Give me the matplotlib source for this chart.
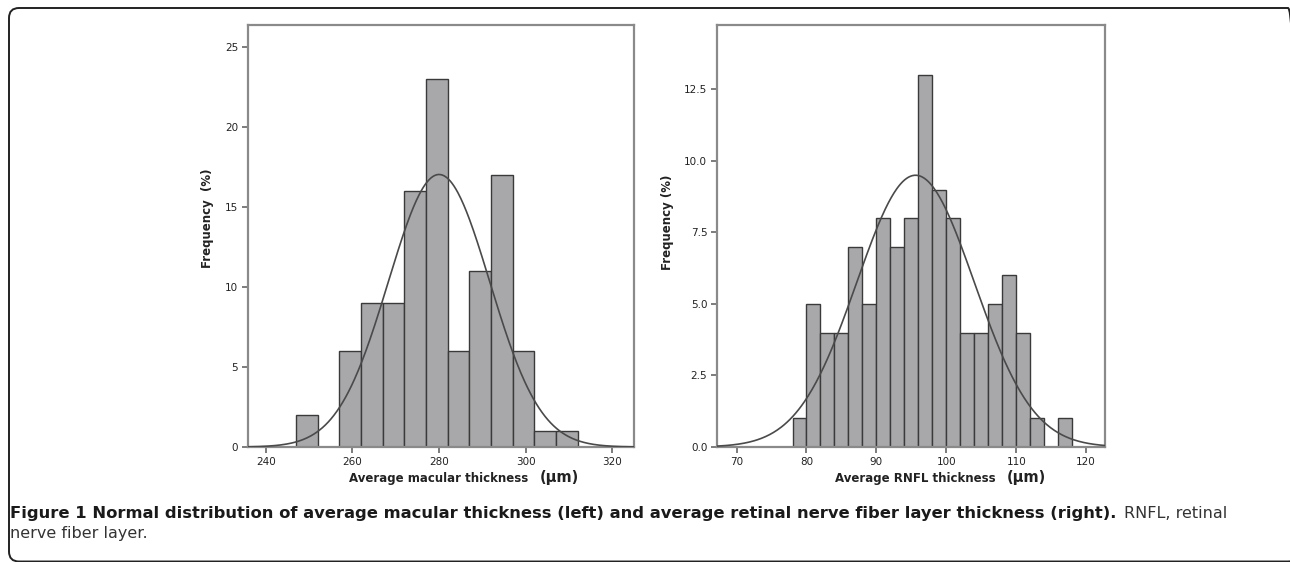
import numpy as np
import matplotlib
matplotlib.use("Agg")
import matplotlib.pyplot as plt
from matplotlib.patches import FancyBboxPatch

# Left histogram: average macular thickness (bins of 5 um)
mac_edges = [247, 252, 257, 262, 267, 272, 277, 282, 287, 292, 297, 302, 307, 312]
mac_freq = [2, 0, 6, 9, 9, 16, 23, 6, 11, 17, 6, 1, 1]
mac_mean, mac_sd = 280.0, 11.7

# Right histogram: average RNFL thickness (bins of 2 um)
rnfl_edges = [78, 80, 82, 84, 86, 88, 90, 92, 94, 96, 98, 100, 102, 104,
              106, 108, 110, 112, 114, 116, 118]
rnfl_freq = [1, 5, 4, 4, 7, 5, 8, 7, 8, 13, 9, 8, 4, 4, 5, 6, 4, 1, 0, 1]
rnfl_mean, rnfl_sd = 95.6, 8.4

W, H = 1290, 562
fig = plt.figure(figsize=(W / 100, H / 100), dpi=100)

BAR = "#a8a8ab"
EDGE = "#3a3a3a"
SPINE = "#8a8a8a"
TXT = "#222222"


def px_axes(x0, y0, x1, y1):
    return fig.add_axes([x0 / W, 1 - y1 / H, (x1 - x0) / W, (y1 - y0) / H])


def draw_hist(ax, edges, freq, mean, sd, xlim, ylim, xticks, yticks, yfmt):
    edges = np.array(edges, dtype=float)
    freq = np.array(freq, dtype=float)
    width = edges[1] - edges[0]
    keep = freq > 0
    ax.bar(edges[:-1][keep], freq[keep], width=width, align="edge",
           color=BAR, edgecolor=EDGE, linewidth=1.0, zorder=2)
    xs = np.linspace(xlim[0], xlim[1], 400)
    pdf = np.exp(-0.5 * ((xs - mean) / sd) ** 2) / (sd * np.sqrt(2 * np.pi))
    ax.plot(xs, 100 * width * pdf, color="#4a4a4a", linewidth=1.2, zorder=3)
    ax.set_xlim(*xlim)
    ax.set_ylim(*ylim)
    ax.set_xticks(xticks)
    ax.set_yticks(yticks)
    ax.set_yticklabels([yfmt.format(v) for v in yticks])
    for s in ax.spines.values():
        s.set_color(SPINE)
        s.set_linewidth(1.6)
    ax.tick_params(axis="both", length=4, width=1.2, color="#666666",
                   labelsize=7.5, labelcolor=TXT, pad=3)
    ax.tick_params(top=False, right=False)


ax1 = px_axes(248, 25, 634, 447)
draw_hist(ax1, mac_edges, mac_freq, mac_mean, mac_sd, (235.9, 325.0),
          (0, 26.4), [240, 260, 280, 300, 320], [0, 5, 10, 15, 20, 25], "{:g}")

ax2 = px_axes(717, 25, 1105, 447)
draw_hist(ax2, rnfl_edges, rnfl_freq, rnfl_mean, rnfl_sd, (67.2, 122.7),
          (0, 14.75), [70, 80, 90, 100, 110, 120], [0, 2.5, 5, 7.5, 10, 12.5], "{:.1f}")

# axis labels
lab = dict(fontweight="bold", color=TXT, fontsize=8.5)
fig.text(208 / W, 1 - 218 / H, "Frequency  (%)", rotation=90, ha="center", va="center", **lab)
fig.text(668 / W, 1 - 222 / H, "Frequency (%)", rotation=90, ha="center", va="center", **lab)
fig.text(528 / W, 1 - 482 / H, "Average macular thickness", ha="right", va="baseline", **lab)
fig.text(540 / W, 1 - 482 / H, "(μm)", ha="left", va="baseline", fontweight="bold",
         color=TXT, fontsize=10.5)
fig.text(996 / W, 1 - 482 / H, "Average RNFL thickness", ha="right", va="baseline", **lab)
fig.text(1007 / W, 1 - 482 / H, "(μm)", ha="left", va="baseline", fontweight="bold",
         color=TXT, fontsize=10.5)

# caption
t1 = fig.text(10 / W, 1 - 518 / H,
              "Figure 1 Normal distribution of average macular thickness (left) and "
              "average retinal nerve fiber layer thickness (right).",
              ha="left", va="baseline", fontweight="bold", fontsize=11.75,
              color="#1a1a1a")
fig.canvas.draw()
bb = t1.get_window_extent()
fig.text((bb.x1 + 8) / W, 1 - 518 / H, "RNFL, retinal", ha="left", va="baseline",
         fontsize=11.5, color="#333333")
fig.text(10 / W, 1 - 538 / H, "nerve fiber layer.", ha="left", va="baseline",
         fontsize=11.5, color="#333333")

# rounded frame (right and bottom edges run off the image)
frame = FancyBboxPatch((9 / 100, (H - 561.5) / 100), (1298 - 9) / 100, (561.5 - 8) / 100,
                       boxstyle="round,pad=0,rounding_size=0.1",
                       transform=fig.dpi_scale_trans, fill=False,
                       edgecolor="#222222", linewidth=1.4)
fig.patches.append(frame)

fig.savefig("out.png", dpi=100)
